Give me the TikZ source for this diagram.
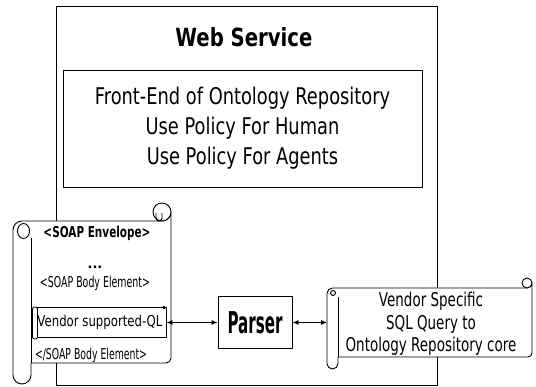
\documentclass[tikz,border=0pt]{standalone}
\usepackage{fontspec}
\setmainfont{DejaVu Sans}
\usetikzlibrary{arrows.meta}
% horizontal squeeze of a text, and fitting a text to a given width
\newcommand\sqz[2]{\scalebox{#1}[1]{#2}}
\newcommand\fitw[2]{\resizebox{#1}{\height}{#2}}
\begin{document}
\begin{tikzpicture}[x=1pt,y=-1pt,line width=0.9pt,line join=round,
  frame/.style={draw,inner sep=0pt},
  paper/.style={draw,fill=white},
  lnk/.style={{Latex[length=6pt,width=5pt]}-{Latex[length=6pt,width=5pt]},line width=0.9pt}]
\useasboundingbox (0,0) rectangle (536,387);

% web service container
\node[frame,minimum width=381pt,minimum height=379pt] (ws) at (246.5,195.5) {};
\node[font=\bfseries\fontsize{25}{25}\selectfont] (wstitle) at (244,37) {\fitw{137pt}{Web Service}};
\node[frame,minimum width=359pt,minimum height=117pt,align=center,
      font=\fontsize{23}{30}\selectfont] (front) at (242.5,128.5)
  {\sqz{0.775}{Front-End of Ontology Repository}\\
   \sqz{0.775}{Use Policy For Human}\\
   \sqz{0.775}{Use Policy For Agents}};

% SOAP envelope scroll
\draw[paper] (22,221) -- (162,221) arc[start angle=90,end angle=0,radius=9]
  -- (171,358) arc[start angle=0,end angle=90,radius=5]
  -- (31,363) -- (31,375) arc[start angle=0,end angle=180,radius=9]
  -- (13,230) arc[start angle=180,end angle=270,radius=9] -- cycle;
\draw (31,238) -- (31,363);
\draw[paper] (23.5,231) ellipse[x radius=6,y radius=7.5];
\draw[paper] (162,212) circle[radius=9];
\draw (156,213) -- (156,218) arc[start angle=180,end angle=0,radius=3] -- (162,213);

\node[font=\bfseries\fontsize{15}{15}\selectfont] (envelope) at (97,233) {\fitw{107pt}{<SOAP Envelope>}};
\node[font=\bfseries\fontsize{13}{13}\selectfont] (dots) at (95,267) {...};
\node[font=\fontsize{15}{15}\selectfont] (bodyopen) at (95,283) {\fitw{110pt}{<SOAP Body Element>}};
\node[frame,fill=white,minimum width=132pt,minimum height=30pt,
      font=\fontsize{15}{15}\selectfont] (vendorql) at (100,322.5) {\fitw{125pt}{Vendor supported-QL}};
\draw[paper,rounded corners=2pt] (32.5,307) rectangle (37.5,339);
\fill (164,307.5) circle[radius=1.8];
\node[font=\fontsize{15}{15}\selectfont] (bodyclose) at (91,355) {\fitw{112pt}{</SOAP Body Element>}};

% parser
\node[frame,minimum width=74pt,minimum height=52pt,
      font=\bfseries\fontsize{30}{30}\selectfont] (parser) at (255,322.5) {\fitw{55pt}{Parser}};

% vendor specific query scroll
\draw[paper] (332.5,288) -- (527,288) arc[start angle=90,end angle=0,radius=5]
  -- (532,353) arc[start angle=0,end angle=90,radius=4]
  -- (338,357) -- (338,363.5) arc[start angle=0,end angle=180,radius=5.5]
  -- (327,293.5) arc[start angle=180,end angle=270,radius=5.5] -- cycle;
\draw (338,297) -- (338,357);
\draw[paper] (527,283) circle[radius=5];
\draw[paper] (333,293) circle[radius=2.5];
\coordinate (sqlin) at (327,322.5);
\node[align=center,font=\fontsize{19}{22.5}\selectfont] (vendorsql) at (431,324)
  {\sqz{0.71}{Vendor Specific}\\ \sqz{0.71}{SQL Query to}\\ \sqz{0.71}{Ontology Repository core}};

% links
\draw[lnk] (vendorql.east) -- (parser.west);
\draw[lnk] (parser.east) -- (sqlin);
\end{tikzpicture}
\end{document}
